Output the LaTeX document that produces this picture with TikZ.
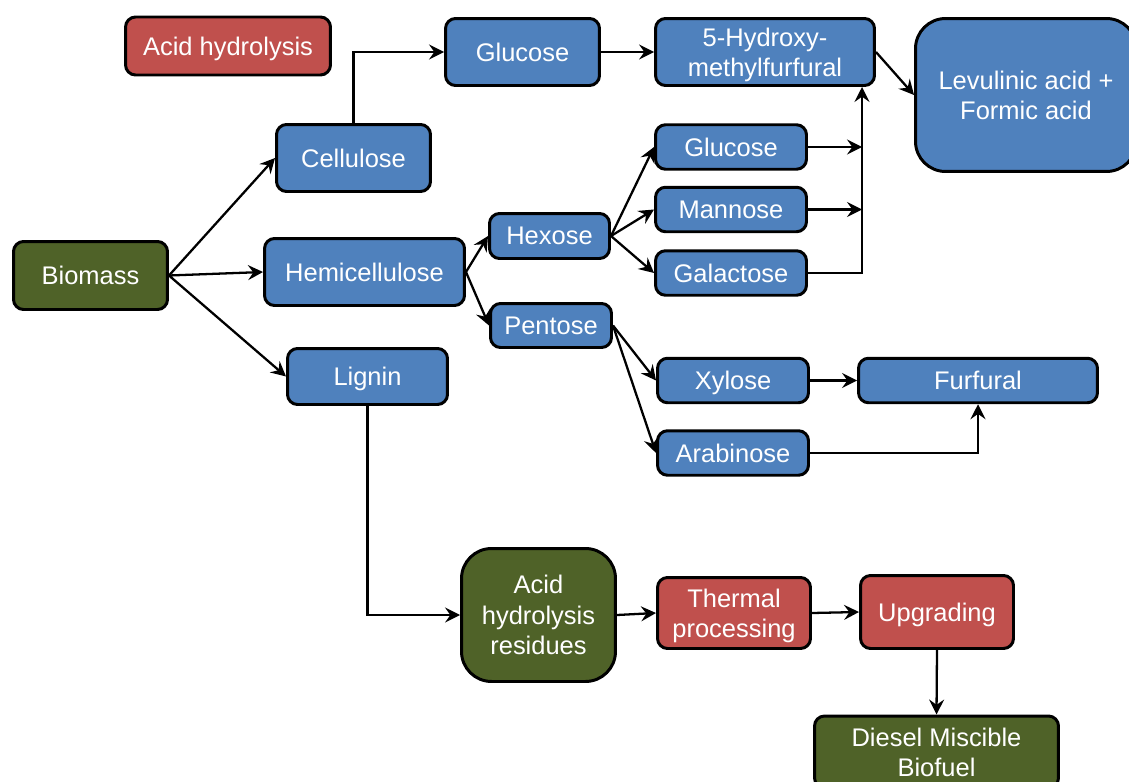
\documentclass[tikz,border=0pt]{standalone}
\usepackage{fontspec}
\setmainfont{Liberation Sans}
\usetikzlibrary{arrows.meta}
\definecolor{procblue}{HTML}{4F81BD}
\definecolor{procred}{HTML}{C0504D}
\definecolor{procgreen}{HTML}{4F6228}

\begin{document}
\begin{tikzpicture}[x=0.02cm, y=-0.02cm, >={Stealth[length=8.5pt,width=8.5pt,inset=3pt]}, line width=1.3pt,
    box/.style={draw=black, line width=1.7pt, rounded corners=0.2cm, text=white, align=center,
        inner sep=2pt, text depth=0pt, font=\fontsize{14.5}{17.3}\selectfont},
    sugar/.style={box, fill=procblue},
    stage/.style={box, fill=procred},
    mass/.style={box, fill=procgreen},
    slim/.style={minimum width=3.02cm, minimum height=0.89cm}]
    \useasboundingbox (0,0) rectangle (1129,781);
    \node[stage, minimum width=4.10cm, minimum height=1.16cm] (acid) at (228,46) {Acid hydrolysis};
    \node[mass, minimum width=3.08cm, minimum height=1.36cm] (biom) at (90.5,275.5) {Biomass};
    \node[sugar, minimum width=3.08cm, minimum height=1.34cm] (cell) at (353.5,158) {Cellulose};
    \node[sugar, minimum width=4.00cm, minimum height=1.34cm] (hemi) at (364.5,272) {Hemicellulose};
    \node[sugar, minimum width=3.20cm, minimum height=1.12cm] (lign) at (367.5,376.5) {Lignin};
    \node[sugar, minimum width=3.08cm, minimum height=1.34cm] (glucA) at (522.5,52) {Glucose};
    \node[sugar, minimum width=4.38cm, minimum height=1.34cm] (hmf) at (765,52) {5-Hydroxy-\\methylfurfural};
    \node[sugar, rounded corners=0.6cm, minimum width=4.42cm, minimum height=3.06cm] (levul) at (1026,95) {Levulinic acid +\\Formic acid};
    \node[sugar, minimum width=2.40cm, minimum height=0.90cm] (hexo) at (549.5,236) {Hexose};
    \node[sugar, minimum width=2.42cm, minimum height=0.88cm] (pent) at (551,325.5) {Pentose};
    \node[sugar, slim] (gluB) at (731,147) {Glucose};
    \node[sugar, slim] (mann) at (731,209.5) {Mannose};
    \node[sugar, slim] (galac) at (731,273) {Galactose};
    \node[sugar, slim] (xyl) at (733,380.5) {Xylose};
    \node[sugar, slim] (arab) at (733,453) {Arabinose};
    \node[sugar, minimum width=4.78cm, minimum height=0.89cm] (furf) at (978,380.5) {Furfural};
    \node[mass, rounded corners=0.6cm, minimum width=3.08cm, minimum height=2.66cm] (resid) at (538.5,615) {Acid\\hydrolysis\\residues};
    \node[stage, minimum width=3.06cm, minimum height=1.42cm] (therm) at (734,613) {Thermal\\processing};
    \node[stage, minimum width=3.06cm, minimum height=1.46cm] (upg) at (937,612) {Upgrading};
    \node[mass, minimum width=4.88cm, minimum height=1.44cm] (dies) at (936.5,752) {Diesel Miscible\\Biofuel};
    \path (hmf.south) ++(97,0) coordinate (mrg);
    \draw[->] (biom.east) -- (cell.west);
    \draw[->] (biom.east) -- (hemi.west);
    \draw[->] (biom.east) -- (lign.west);
    \draw[->] (cell.north) |- (glucA.west);
    \draw[->] (glucA.east) -- (hmf.west);
    \draw[->] (hmf.east) -- (levul.west);
    \draw[->] (hemi.east) -- (hexo.west);
    \draw[->] (hemi.east) -- (pent.west);
    \draw[->] (hexo.east) -- (gluB.west);
    \draw[->] (hexo.east) -- (mann.west);
    \draw[->] (hexo.east) -- (galac.west);
    \draw[->] (gluB.east) -- (gluB.east -| mrg);
    \draw[->] (mann.east) -- (mann.east -| mrg);
    \draw[->] (galac.east) -| (mrg);
    \draw[->] (pent.east) -- (xyl.west);
    \draw[->] (pent.east) -- (arab.west);
    \draw[->] (xyl.east) -- (furf.west);
    \draw[->] (arab.east) -| (furf.south);
    \draw[->] (lign.south) |- (resid.west);
    \draw[->] (resid.east) -- (therm.west);
    \draw[->] (therm.east) -- (upg.west);
    \draw[->] (upg.south) -- (dies.north);
\end{tikzpicture}
\end{document}
